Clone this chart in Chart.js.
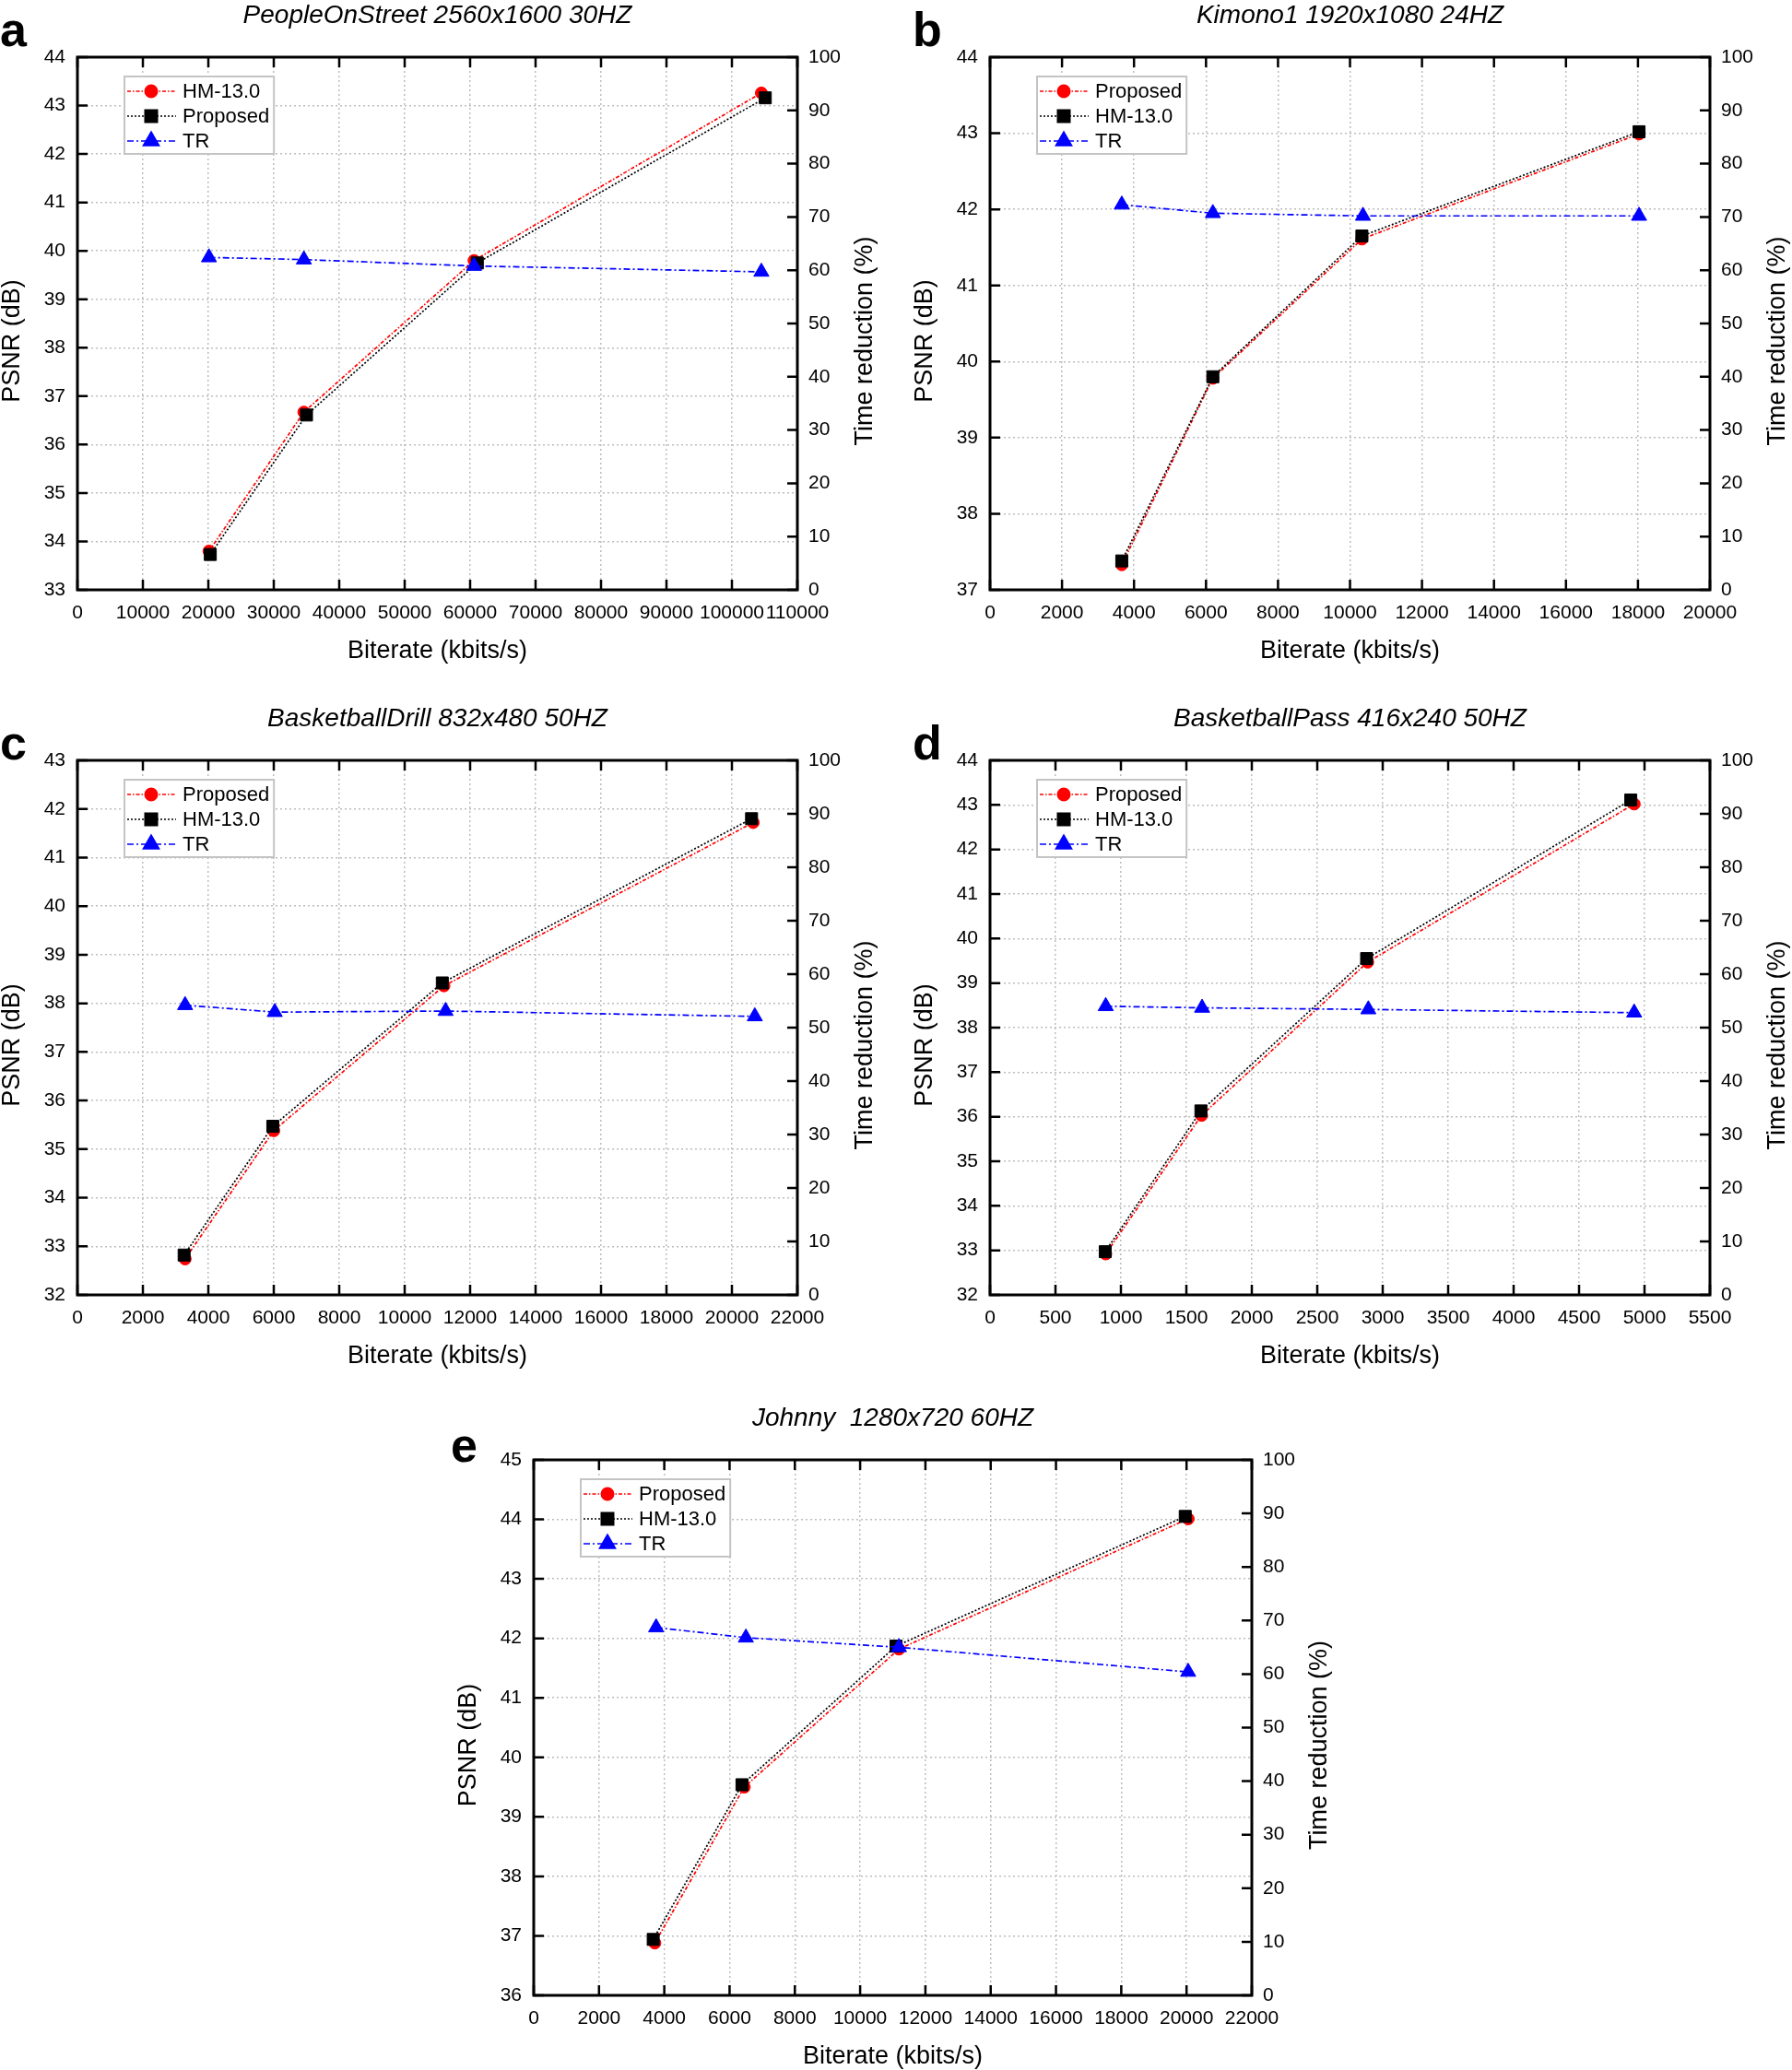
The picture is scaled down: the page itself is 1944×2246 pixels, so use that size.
<!DOCTYPE html>
<html>
<head>
<meta charset="utf-8">
<script src="https://cdn.jsdelivr.net/npm/chart.js@4.4.1/dist/chart.umd.min.js"></script>
<style>
  html, body { margin: 0; padding: 0; background: #fff; }
  body { position: relative; width: 1944px; height: 2246px; overflow: hidden; }
  canvas { position: absolute; }
</style>
</head>
<body>
<canvas id="chart-a"></canvas>
<canvas id="chart-b"></canvas>
<canvas id="chart-c"></canvas>
<canvas id="chart-d"></canvas>
<canvas id="chart-e"></canvas>
<script>
// shared right-hand axis (time reduction, %)
const trTicks = [0, 10, 20, 30, 40, 50, 60, 70, 80, 90, 100];

// a: PeopleOnStreet  -- points are [bitrate kbit/s, value]
const aLabels = ['HM-13.0', 'Proposed', 'TR'];
const aRed = [[20100, 33.80], [34600, 36.67], [60600, 39.80], [104500, 43.26]];
const aBlack = [[20300, 33.73], [35000, 36.61], [61100, 39.75], [105100, 43.16]];
const aTR = [[20100, 62.4], [34600, 62.0], [60600, 60.8], [104500, 59.7]];
const aXTicks = [0, 10000, 20000, 30000, 40000, 50000, 60000, 70000, 80000, 90000, 100000, 110000];
const aPsnrTicks = [33, 34, 35, 36, 37, 38, 39, 40, 41, 42, 43, 44];

// b: Kimono1
const bLabels = ['Proposed', 'HM-13.0', 'TR'];
const bRed = [[3660, 37.33], [6190, 39.78], [10330, 41.61], [18030, 42.99]];
const bBlack = [[3660, 37.38], [6190, 39.80], [10330, 41.65], [18030, 43.02]];
const bTR = [[3660, 72.3], [6190, 70.7], [10360, 70.2], [18030, 70.2]];
const bXTicks = [0, 2000, 4000, 6000, 8000, 10000, 12000, 14000, 16000, 18000, 20000];
const bPsnrTicks = [37, 38, 39, 40, 41, 42, 43, 44];

// c: BasketballDrill
const cLabels = ['Proposed', 'HM-13.0', 'TR'];
const cRed = [[3290, 32.74], [6000, 35.38], [11200, 38.36], [20650, 41.72]];
const cBlack = [[3260, 32.82], [5970, 35.47], [11150, 38.42], [20600, 41.80]];
const cTR = [[3290, 54.2], [6030, 52.9], [11250, 53.1], [20700, 52.1]];
const cXTicks = [0, 2000, 4000, 6000, 8000, 10000, 12000, 14000, 16000, 18000, 20000, 22000];
const cPsnrTicks = [32, 33, 34, 35, 36, 37, 38, 39, 40, 41, 42, 43];

// d: BasketballPass
const dLabels = ['Proposed', 'HM-13.0', 'TR'];
const dRed = [[884, 32.92], [1616, 36.03], [2885, 39.47], [4921, 43.02]];
const dBlack = [[880, 32.97], [1611, 36.13], [2877, 39.55], [4895, 43.11]];
const dTR = [[884, 54.0], [1620, 53.7], [2890, 53.4], [4921, 52.8]];
const dXTicks = [0, 500, 1000, 1500, 2000, 2500, 3000, 3500, 4000, 4500, 5000, 5500];
const dPsnrTicks = [32, 33, 34, 35, 36, 37, 38, 39, 40, 41, 42, 43, 44];

// e: Johnny
const eLabels = ['Proposed', 'HM-13.0', 'TR'];
const eRed = [[3710, 36.88], [6450, 39.50], [11190, 41.82], [20050, 44.01]];
const eBlack = [[3660, 36.94], [6380, 39.54], [11100, 41.87], [19960, 44.05]];
const eTR = [[3750, 68.7], [6500, 66.8], [11190, 65.0], [20050, 60.4]];
const eXTicks = [0, 2000, 4000, 6000, 8000, 10000, 12000, 14000, 16000, 18000, 20000, 22000];
const ePsnrTicks = [36, 37, 38, 39, 40, 41, 42, 43, 44, 45];

const FONT = '"Liberation Sans", Arial, Helvetica, sans-serif';
const MARGIN = { left: 95, top: 70, right: 100, bottom: 95 };

// plot rectangles on the page: left, top, right, bottom
const panels = [
    { id: 'chart-a', letter: 'a', title: 'PeopleOnStreet 2560x1600 30HZ', labels: aLabels, red: aRed, black: aBlack, tr: aTR, xTicks: aXTicks, yTicks: aPsnrTicks, rect: [84, 62, 865, 640], letterDy: -12 },
    { id: 'chart-b', letter: 'b', title: 'Kimono1 1920x1080 24HZ', labels: bLabels, red: bRed, black: bBlack, tr: bTR, xTicks: bXTicks, yTicks: bPsnrTicks, rect: [1074, 62, 1855, 640], letterDy: -12 },
    { id: 'chart-c', letter: 'c', title: 'BasketballDrill 832x480 50HZ', labels: cLabels, red: cRed, black: cBlack, tr: cTR, xTicks: cXTicks, yTicks: cPsnrTicks, rect: [84, 825, 865, 1405], letterDy: -1 },
    { id: 'chart-d', letter: 'd', title: 'BasketballPass 416x240 50HZ', labels: dLabels, red: dRed, black: dBlack, tr: dTR, xTicks: dXTicks, yTicks: dPsnrTicks, rect: [1074, 825, 1855, 1405], letterDy: -1 },
    { id: 'chart-e', letter: 'e', title: 'Johnny  1280x720 60HZ', labels: eLabels, red: eRed, black: eBlack, tr: eTR, xTicks: eXTicks, yTicks: ePsnrTicks, rect: [579, 1584, 1358, 2165], letterDy: 2, letterDx: -90 }
];

function toPoints(arr) {
    return arr.map(p => ({ x: p[0], y: p[1] }));
}

const decor = {
    id: 'decor',
    beforeDatasetsDraw(chart) {
        const { ctx, chartArea: ca, scales } = chart;
        ctx.save();
        ctx.strokeStyle = '#000';
        ctx.lineWidth = 3;
        ctx.strokeRect(ca.left, ca.top, ca.right - ca.left, ca.bottom - ca.top);

        // ticks point inward, like the original plot
        ctx.lineWidth = 2.5;
        ctx.beginPath();
        scales.x.ticks.forEach(t => {
            const px = scales.x.getPixelForValue(t.value);
            ctx.moveTo(px, ca.bottom); ctx.lineTo(px, ca.bottom - 11);
            ctx.moveTo(px, ca.top); ctx.lineTo(px, ca.top + 11);
        });
        scales.y.ticks.forEach(t => {
            const py = scales.y.getPixelForValue(t.value);
            ctx.moveTo(ca.left, py); ctx.lineTo(ca.left + 11, py);
        });
        scales.y1.ticks.forEach(t => {
            const py = scales.y1.getPixelForValue(t.value);
            ctx.moveTo(ca.right, py); ctx.lineTo(ca.right - 11, py);
        });
        ctx.stroke();
        ctx.restore();
    },
    afterDraw(chart, args, opts) {
        const { ctx, chartArea: ca } = chart;
        const midX = (ca.left + ca.right) / 2;
        const midY = (ca.top + ca.bottom) / 2 + 19;
        ctx.save();
        ctx.fillStyle = '#000';
        ctx.textBaseline = 'middle';
        ctx.textAlign = 'center';

        ctx.font = 'italic 28px ' + FONT;
        ctx.fillText(opts.title, midX, ca.top - 45);

        ctx.font = '27px ' + FONT;
        ctx.fillText('Biterate (kbits/s)', midX, ca.bottom + 67);

        ctx.save();
        ctx.translate(ca.left - 70, midY);
        ctx.rotate(-Math.PI / 2);
        ctx.fillText('PSNR (dB)', 0, 0);
        ctx.restore();

        ctx.save();
        ctx.translate(ca.right + 74, midY);
        ctx.rotate(-Math.PI / 2);
        ctx.fillText('Time reduction (%)', 0, 0);
        ctx.restore();

        ctx.textAlign = 'left';
        ctx.textBaseline = 'alphabetic';
        ctx.font = 'bold 52px ' + FONT;
        ctx.fillText(opts.letter, ca.left + opts.letterDx, ca.top + opts.letterDy);

        // legend box: line sample, marker, label
        ctx.font = '22px ' + FONT;
        const sets = chart.data.datasets;
        const widest = Math.max(...sets.map(d => ctx.measureText(d.label).width));
        const bx = ca.left + 51, by = ca.top + 21;
        const bw = 63 + widest + 5, bh = 84;
        ctx.fillStyle = '#fff';
        ctx.fillRect(bx, by, bw, bh);
        ctx.strokeStyle = '#c4c4c4';
        ctx.lineWidth = 2;
        ctx.strokeRect(bx, by, bw, bh);
        sets.forEach((d, i) => {
            const y = by + 16 + 27 * i;
            ctx.save();
            ctx.strokeStyle = d.borderColor;
            ctx.lineWidth = d.borderWidth;
            ctx.setLineDash(d.borderDash);
            ctx.beginPath();
            ctx.moveTo(bx + 3, y);
            ctx.lineTo(bx + 56, y);
            ctx.stroke();
            ctx.restore();
            ctx.fillStyle = d.pointBackgroundColor;
            ctx.strokeStyle = d.pointBorderColor;
            Chart.helpers.drawPoint(ctx, { pointStyle: d.pointStyle, radius: d.pointRadius, rotation: 0, borderWidth: 1 }, bx + 29, y);
            ctx.fillStyle = '#000';
            ctx.textBaseline = 'middle';
            ctx.fillText(d.label, bx + 63, y + 1);
        });
        ctx.restore();
    }
};

function makeChart(p) {
    const [L, T, R, B] = p.rect;
    const canvas = document.getElementById(p.id);
    const w = (R - L) + MARGIN.left + MARGIN.right;
    const h = (B - T) + MARGIN.top + MARGIN.bottom;
    canvas.width = w;
    canvas.height = h;
    canvas.style.left = (L - MARGIN.left) + 'px';
    canvas.style.top = (T - MARGIN.top) + 'px';
    canvas.style.width = w + 'px';
    canvas.style.height = h + 'px';

    const tickFont = { family: FONT, size: 21 };
    const line = (label, pts, color, dash, style, radius, order, axis) => ({
        label: label,
        data: toPoints(pts),
        yAxisID: axis,
        borderColor: color,
        borderWidth: 1.7,
        borderDash: dash,
        pointStyle: style,
        pointRadius: radius,
        pointHoverRadius: radius,
        pointBackgroundColor: color,
        pointBorderColor: color,
        pointBorderWidth: 1,
        fill: false,
        tension: 0,
        order: order
    });

    return new Chart(canvas.getContext('2d'), {
        type: 'line',
        data: {
            datasets: [
                line(p.labels[0], p.red, '#ff0000', [4, 2, 1.5, 2], 'circle', 6.5, 2, 'y'),
                line(p.labels[1], p.black, '#000000', [2, 2], 'rect', 9.2, 1, 'y'),
                line(p.labels[2], p.tr, '#0000ff', [7, 3, 2, 3], 'triangle', 9.5, 0, 'y1')
            ]
        },
        options: {
            responsive: false,
            animation: false,
            devicePixelRatio: 1,
            layout: { padding: { left: 0, top: MARGIN.top, right: 0, bottom: 0 } },
            plugins: {
                legend: { display: false },
                tooltip: { enabled: false },
                decor: { title: p.title, letter: p.letter, letterDx: p.letterDx || -84, letterDy: p.letterDy }
            },
            scales: {
                x: {
                    type: 'linear',
                    min: p.xTicks[0],
                    max: p.xTicks[p.xTicks.length - 1],
                    afterBuildTicks: s => { s.ticks = p.xTicks.map(v => ({ value: v })); },
                    afterFit: s => { s.height = MARGIN.bottom; },
                    ticks: { font: tickFont, color: '#000', padding: 13, autoSkip: false, maxRotation: 0, minRotation: 0, callback: v => String(v) },
                    grid: { color: '#bdbdbd', lineWidth: 1.5, drawTicks: false },
                    border: { display: false, dash: [2, 3] }
                },
                y: {
                    type: 'linear',
                    position: 'left',
                    min: p.yTicks[0],
                    max: p.yTicks[p.yTicks.length - 1],
                    afterBuildTicks: s => { s.ticks = p.yTicks.map(v => ({ value: v })); },
                    afterFit: s => { s.width = MARGIN.left; },
                    ticks: { font: tickFont, color: '#000', padding: 13, callback: v => String(v) },
                    grid: { color: '#bdbdbd', lineWidth: 1.5, drawTicks: false },
                    border: { display: false, dash: [2, 3] }
                },
                y1: {
                    type: 'linear',
                    position: 'right',
                    min: trTicks[0],
                    max: trTicks[trTicks.length - 1],
                    afterBuildTicks: s => { s.ticks = trTicks.map(v => ({ value: v })); },
                    afterFit: s => { s.width = MARGIN.right; },
                    ticks: { font: tickFont, color: '#000', padding: 12, callback: v => String(v) },
                    grid: { display: false, drawOnChartArea: false, drawTicks: false },
                    border: { display: false }
                }
            }
        },
        plugins: [decor]
    });
}

panels.forEach(makeChart);
</script>
</body>
</html>
